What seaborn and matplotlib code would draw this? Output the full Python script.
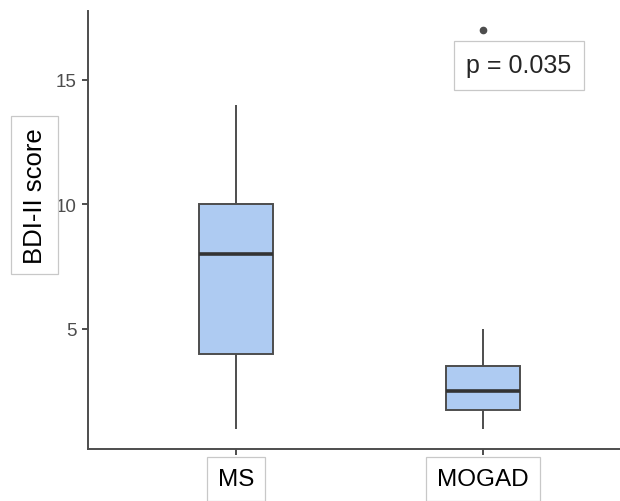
import numpy as np
import pandas as pd
import seaborn as sns
import matplotlib.pyplot as plt

# data (reconstructed so the box stats match the picture)
groups = ['MS', 'MOGAD']
ms_scores = [1, 2, 4, 6, 8, 9, 10, 12, 14]
mogad_scores = [1, 1.5, 1.75, 2, 2.5, 3, 3.5, 5, 17]
p_text = 'p = 0.035'
y_ticks = [5, 10, 15]

df = pd.DataFrame({
    'group': ['MS'] * len(ms_scores) + ['MOGAD'] * len(mogad_scores),
    'score': ms_scores + mogad_scores,
})

sns.set_style('ticks')
plt.rcParams['font.family'] = ['Liberation Sans', 'DejaVu Sans']

fig = plt.figure(figsize=(6.2, 5.02), dpi=100)
ax = fig.add_axes([0.142, 0.1036, 0.858, 0.8725])

grey = '#4d4d4d'
sns.boxplot(data=df, x='group', y='score', order=groups, ax=ax,
            width=0.3, color='#aecbf2', saturation=1,
            linecolor=grey, linewidth=1.4, showcaps=False,
            boxprops=dict(edgecolor=grey),
            medianprops=dict(color='#333333', linewidth=2.6),
            flierprops=dict(marker='o', markerfacecolor=grey,
                            markeredgecolor=grey, markersize=4.5))

ax.set_xlim(-0.6, 1.555)
ax.set_ylim(0.18, 17.77)
ax.set_yticks(y_ticks)
sns.despine(ax=ax)
for s in ['left', 'bottom']:
    ax.spines[s].set_color(grey)
    ax.spines[s].set_linewidth(1.4)

ax.tick_params(axis='y', colors=grey, labelsize=13.5, length=4, width=1.4, pad=4)
ax.tick_params(axis='x', colors=grey, labelcolor='black', labelsize=17.5,
               length=4, width=1.4, pad=10)
box_style = dict(boxstyle='square,pad=0.45', fc='white', ec='#c8c8c8', lw=0.9)
for lab in ax.get_xticklabels():
    lab.set_bbox(box_style)

ax.set_xlabel('')
ax.set_ylabel('BDI-II score', fontsize=18.5, color='black',
              bbox=dict(boxstyle='square,pad=0.45', fc='white', ec='#c8c8c8', lw=0.9))
ax.yaxis.set_label_coords(-0.1, 0.58)
ax.yaxis.label.set_va('center')

ax.text(1.146, 15.6, p_text, fontsize=18, ha='center', va='center',
        bbox=dict(boxstyle='square,pad=0.5', fc='white', ec='#c8c8c8', lw=0.9))

fig.savefig('out.png', dpi=100, facecolor='white')
